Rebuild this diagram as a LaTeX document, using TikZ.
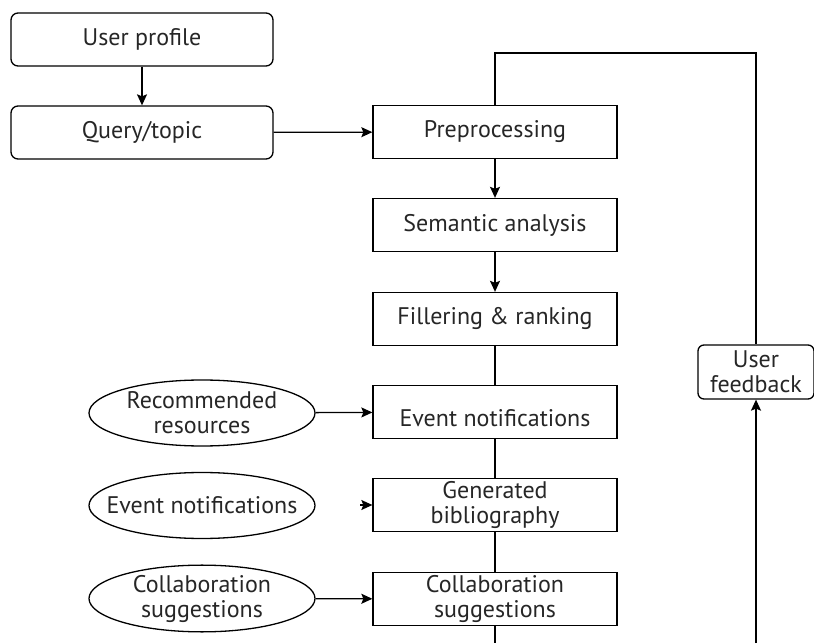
\documentclass[tikz,border=0pt]{standalone}
\usepackage{fontspec}
\setmainfont{PT Sans}
\usetikzlibrary{arrows.meta,shapes.geometric}
\begin{document}
\begin{tikzpicture}[x=1pt,y=1pt,
  base/.style={draw,line width=1.3pt,font=\fontsize{24}{25}\selectfont,align=center,inner sep=0pt,text=black!85},
  rbox/.style={base,rounded corners=7pt,minimum width=262pt,minimum height=53pt},
  sbox/.style={base,minimum width=244pt,minimum height=53pt},
  fbox/.style={base,rounded corners=6pt,minimum width=116pt,minimum height=54pt},
  ell/.style={base,ellipse,minimum width=226pt,minimum height=66pt,inner sep=0pt},
  arr/.style={line width=1.3pt,-{Stealth[length=11pt,width=10pt,inset=2pt]}},
  ln/.style={line width=1.3pt}]
\useasboundingbox (0,0) rectangle (814,643);
\node[rbox] (up) at (142,603.5) {User profile};
\node[rbox] (qt) at (142,510.5) {Query/topic};
\node[sbox] (pre) at (495,511) {Preprocessing};
\node[sbox] (sem) at (495,418) {Semantic analysis};
\node[sbox] (fil) at (495,324) {Fillering \& ranking};
\node[sbox] (evt) at (495,231) {\raisebox{-6pt}[\height][0pt]{Event notifications}};
\node[sbox] (gen) at (495,138) {Generated\\bibliography};
\node[sbox] (col) at (495,44) {Collaboration\\suggestions};
\node[fbox] (fb) at (756,271) {User\\feedback};
\node[ell] (e1) at (202,230) {Recommended\\resources};
\node[ell,inner xsep=-16pt] (e2) at (202,137.5) {Event notifications};
\node[ell] (e3) at (202,44.5) {Collaboration\\suggestions};
\coordinate (top) at (756,590);
\coordinate (bot) at (756,0);
\coordinate (colbot) at (495,0);
\coordinate (e2a) at (360,138);
\draw[arr] (up) -- (qt);
\draw[arr] (qt) -- (pre);
\draw[arr] (pre) -- (sem);
\draw[arr] (sem) -- (fil);
\draw[ln] (fil) -- (evt);
\draw[ln] (evt) -- (gen);
\draw[ln] (gen) -- (col);
\draw[ln] (col) -- (colbot);
\draw[ln] (pre.north) |- (top) -- (fb.north);
\draw[arr] (bot) -- (fb.south);
\draw[arr] (e1) -- (evt);
\draw[arr] (e2a) -- (gen.west);
\draw[arr] (e3) -- (col);
\end{tikzpicture}
\end{document}
